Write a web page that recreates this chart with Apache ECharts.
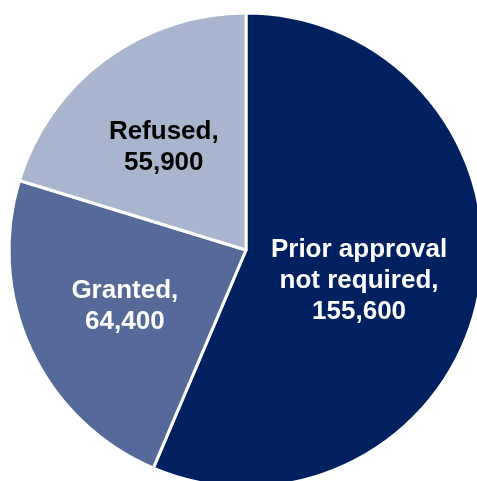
<!DOCTYPE html>
<html>
<head>
<meta charset="utf-8">
<script src="https://cdn.jsdelivr.net/npm/echarts@6/dist/echarts.min.js"></script>
<style>html,body{margin:0;padding:0;background:#fff;}#c{width:477px;height:481px;}</style>
</head>
<body>
<div id="c"></div>
<script>
var categories = ['Prior approval\nnot required', 'Granted', 'Refused'];
var values = [155600, 64400, 55900];
var colors = ['#002060', '#566a9a', '#a9b4cf'];
var labelColors = ['#ffffff', '#ffffff', '#000000'];
var labelShift = [[-6, 7], [-11, 5], [-10, -5]];

var chart = echarts.init(document.getElementById('c'), null, {renderer: 'canvas'});
var data = categories.map(function (c, i) {
  return {
    name: c,
    value: values[i],
    itemStyle: {color: colors[i]},
    label: {color: labelColors[i]}
  };
});
chart.setOption({
  animation: false,
  series: [{
    type: 'pie',
    center: [246, 250],
    radius: [0, 237],
    startAngle: 90,
    clockwise: true,
    data: data,
    itemStyle: {borderColor: '#ffffff', borderWidth: 3},
    label: {
      show: true,
      position: 'inside',
      fontFamily: 'Liberation Sans, Arial, sans-serif',
      fontWeight: 'bold',
      fontSize: 26,
      lineHeight: 31,
      align: 'center',
      formatter: function (p) {
        return p.name + ',\n' + p.value.toLocaleString('en-US');
      }
    },
    labelLayout: function (p) {
      var s = labelShift[p.dataIndex];
      return {dx: s[0], dy: s[1]};
    },
    labelLine: {show: false}
  }]
});
</script>
</body>
</html>
